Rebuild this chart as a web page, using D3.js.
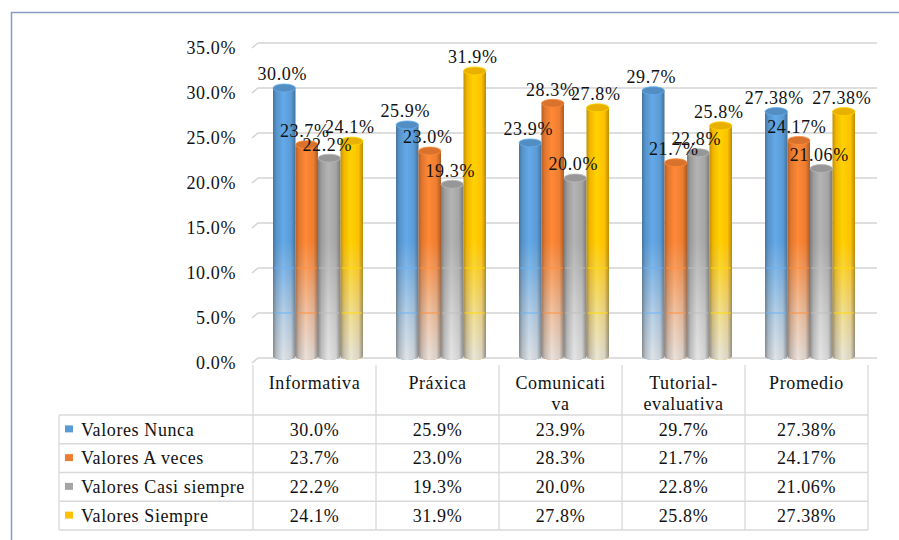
<!DOCTYPE html>
<html>
<head>
<meta charset="utf-8">
<script src="https://cdn.jsdelivr.net/npm/d3@7"></script>
<style>
  body { margin: 0; background: #fff; }
</style>
</head>
<body>
<div id="chart"></div>
<script>
const categories = ["Informativa", "Práxica", "Comunicativa", "Tutorial-evaluativa", "Promedio"];
const categoryLines = [["Informativa"], ["Práxica"], ["Comunicati", "va"], ["Tutorial-", "evaluativa"], ["Promedio"]];
const seriesNames = ["Valores Nunca", "Valores A veces", "Valores Casi siempre", "Valores Siempre"];
const nunca = [30.0, 25.9, 23.9, 29.7, 27.38];
const aVeces = [23.7, 23.0, 28.3, 21.7, 24.17];
const casiSiempre = [22.2, 19.3, 20.0, 22.8, 21.06];
const siempre = [24.1, 31.9, 27.8, 25.8, 27.38];
const yTicks = [0, 5, 10, 15, 20, 25, 30, 35];
const colors = ["#5b9bd5", "#ed7d31", "#a5a5a5", "#ffc000"];

const series = [nunca, aVeces, casiSiempre, siempre];
const width = 899, height = 540;
const FONT = "'Liberation Serif', 'DejaVu Serif', serif";

const svg = d3.select("#chart").append("svg")
  .attr("width", width)
  .attr("height", height)
  .attr("font-family", FONT)
  .style("font-family", FONT);

// outer frame
svg.append("path")
  .attr("d", "M11.5,540 V12.5 H899")
  .attr("fill", "none")
  .attr("stroke", "#8a9cc4")
  .attr("stroke-width", 1.5);

const y = d3.scaleLinear().domain([0, 35]).range([358, 43]);
const x0 = d3.scaleBand().domain(categories).range([253, 868]);
const x1 = d3.scaleBand().domain(seriesNames).range([20, 110]);

const fmt = v => Math.abs(v * 10 - Math.round(v * 10)) < 1e-6 ? v.toFixed(1) + "%" : v.toFixed(2) + "%";

function label(sel) {
  return sel.attr("font-family", FONT)
    .attr("fill", "#111")
    .style("font-size", "18px")
    .style("letter-spacing", "0.6px");
}

// gridlines with the little 3D corner
svg.append("g").selectAll("path")
  .data(yTicks)
  .join("path")
  .attr("d", t => `M252,${y(t) + 5} L258,${y(t)} H877`)
  .attr("fill", "none")
  .attr("stroke", "#d4d4d4")
  .attr("stroke-width", 1.6);

// y axis labels
svg.append("g").selectAll("text")
  .data(yTicks)
  .join("text")
  .attr("x", 236)
  .attr("y", t => y(t) + 5)
  .attr("dy", "0.35em")
  .attr("text-anchor", "end")
  .call(label)
  .text(t => d3.format(".1f")(t) + "%");

const defs = svg.append("defs");

function cylGradient(id, base) {
  const g = defs.append("linearGradient").attr("id", id)
    .attr("x1", 0).attr("x2", 1).attr("y1", 0).attr("y2", 0);
  g.append("stop").attr("offset", 0).attr("stop-color", base.darker(0.8));
  g.append("stop").attr("offset", 0.15).attr("stop-color", base.darker(0.15));
  g.append("stop").attr("offset", 0.45).attr("stop-color", base.brighter(0.25));
  g.append("stop").attr("offset", 0.8).attr("stop-color", base);
  g.append("stop").attr("offset", 1).attr("stop-color", base.darker(0.9));
}
colors.forEach((c, i) => cylGradient("cyl" + i, d3.color(c)));

// grey cylinder used for the fade toward the floor
const gg = defs.append("linearGradient").attr("id", "cylGrey")
  .attr("x1", 0).attr("x2", 1).attr("y1", 0).attr("y2", 0);
gg.append("stop").attr("offset", 0).attr("stop-color", "#8e8e8e");
gg.append("stop").attr("offset", 0.15).attr("stop-color", "#c0c0c0");
gg.append("stop").attr("offset", 0.45).attr("stop-color", "#e8e8e8");
gg.append("stop").attr("offset", 0.8).attr("stop-color", "#d6d6d6");
gg.append("stop").attr("offset", 1).attr("stop-color", "#8e8e8e");

const fade = defs.append("linearGradient").attr("id", "fade")
  .attr("gradientUnits", "userSpaceOnUse")
  .attr("x1", 0).attr("x2", 0).attr("y1", y(13)).attr("y2", y(0));
fade.append("stop").attr("offset", 0).attr("stop-color", "#000");
fade.append("stop").attr("offset", 0.3).attr("stop-color", "#4a4a4a");
fade.append("stop").attr("offset", 0.65).attr("stop-color", "#a6a6a6");
fade.append("stop").attr("offset", 1).attr("stop-color", "#ececec");
defs.append("mask").attr("id", "fadeMask")
  .attr("maskUnits", "userSpaceOnUse")
  .attr("x", 0).attr("y", 0).attr("width", width).attr("height", height)
  .append("rect").attr("width", width).attr("height", height).attr("fill", "url(#fade)");

const bw = x1.bandwidth();
const ry = 4;
const body = d => `M${d.cx},${y(d.v)} V${y(0) - 2} A${bw / 2},${ry} 0 0 0 ${d.cx + bw},${y(0) - 2} V${y(d.v)} Z`;

const bars = svg.append("g");
const fades = svg.append("g").attr("mask", "url(#fadeMask)");
const glints = svg.append("g");
const caps = svg.append("g");

series.forEach((vals, si) => {
  const data = vals.map((v, ci) => ({ v, cx: x0(categories[ci]) + x1(seriesNames[si]) }));
  bars.append("g").selectAll("path")
    .data(data)
    .join("path")
    .attr("d", body)
    .attr("fill", `url(#cyl${si})`);
  fades.append("g").selectAll("path")
    .data(data)
    .join("path")
    .attr("d", body)
    .attr("fill", "url(#cylGrey)");
  // gridlines seen through the faded part of the bars
  data.forEach(d => {
    glints.append("g").selectAll("line")
      .data([5, 10])
      .join("line")
      .attr("x1", d.cx + 1).attr("x2", d.cx + bw - 1)
      .attr("y1", t => y(t)).attr("y2", t => y(t))
      .attr("stroke", d3.color(colors[si]).brighter(0.4))
      .attr("stroke-opacity", 0.7)
      .attr("stroke-width", 1.3);
  });
  caps.append("g").selectAll("ellipse")
    .data(data)
    .join("ellipse")
    .attr("cx", d => d.cx + bw / 2)
    .attr("cy", d => y(d.v))
    .attr("rx", bw / 2)
    .attr("ry", ry)
    .attr("fill", d3.color(colors[si]).darker(0.25))
    .attr("stroke", d3.color(colors[si]).brighter(0.3))
    .attr("stroke-width", 0.8);
});

// data labels
series.forEach((vals, si) => {
  svg.append("g").selectAll("text")
    .data(vals)
    .join("text")
    .attr("x", (v, ci) => x0(categories[ci]) + x1(seriesNames[si]) + bw / 2 - 2)
    .attr("y", v => y(v) - 14)
    .attr("dy", "0.35em")
    .attr("text-anchor", "middle")
    .call(label)
    .text(v => fmt(v));
});

// data table
const rowTop = 415, rowH = 28.75;
const tableLine = "#d9d9d9";
const table = svg.append("g");

table.selectAll("line.col")
  .data(d3.range(categories.length + 1))
  .join("line")
  .attr("class", "col")
  .attr("x1", i => 253 + i * x0.bandwidth())
  .attr("x2", i => 253 + i * x0.bandwidth())
  .attr("y1", 365)
  .attr("y2", rowTop + rowH * 4)
  .attr("stroke", tableLine)
  .attr("stroke-width", 1.3);

table.append("line")
  .attr("x1", 59).attr("x2", 59)
  .attr("y1", rowTop).attr("y2", rowTop + rowH * 4)
  .attr("stroke", tableLine).attr("stroke-width", 1.3);

table.selectAll("line.row")
  .data(d3.range(5))
  .join("line")
  .attr("class", "row")
  .attr("x1", 59).attr("x2", 868)
  .attr("y1", i => rowTop + i * rowH)
  .attr("y2", i => rowTop + i * rowH)
  .attr("stroke", tableLine)
  .attr("stroke-width", 1.3);

categoryLines.forEach((lines, ci) => {
  const cx = x0(categories[ci]) + x0.bandwidth() / 2;
  table.append("text")
    .attr("x", cx)
    .attr("y", 389)
    .attr("text-anchor", "middle")
    .call(label)
    .selectAll("tspan")
    .data(lines)
    .join("tspan")
    .attr("x", cx)
    .attr("dy", (d, i) => i === 0 ? 0 : 21)
    .text(d => d);
});

series.forEach((vals, si) => {
  const cy = rowTop + si * rowH + rowH / 2;
  table.append("rect")
    .attr("x", 65).attr("y", cy - 4)
    .attr("width", 8).attr("height", 7)
    .attr("fill", colors[si]);
  table.append("text")
    .attr("x", 81).attr("y", cy)
    .attr("dy", "0.35em")
    .call(label)
    .text(seriesNames[si]);
  table.append("g").selectAll("text")
    .data(vals)
    .join("text")
    .attr("x", (v, ci) => x0(categories[ci]) + x0.bandwidth() / 2)
    .attr("y", cy)
    .attr("dy", "0.35em")
    .attr("text-anchor", "middle")
    .call(label)
    .text(v => fmt(v));
});
</script>
</body>
</html>
